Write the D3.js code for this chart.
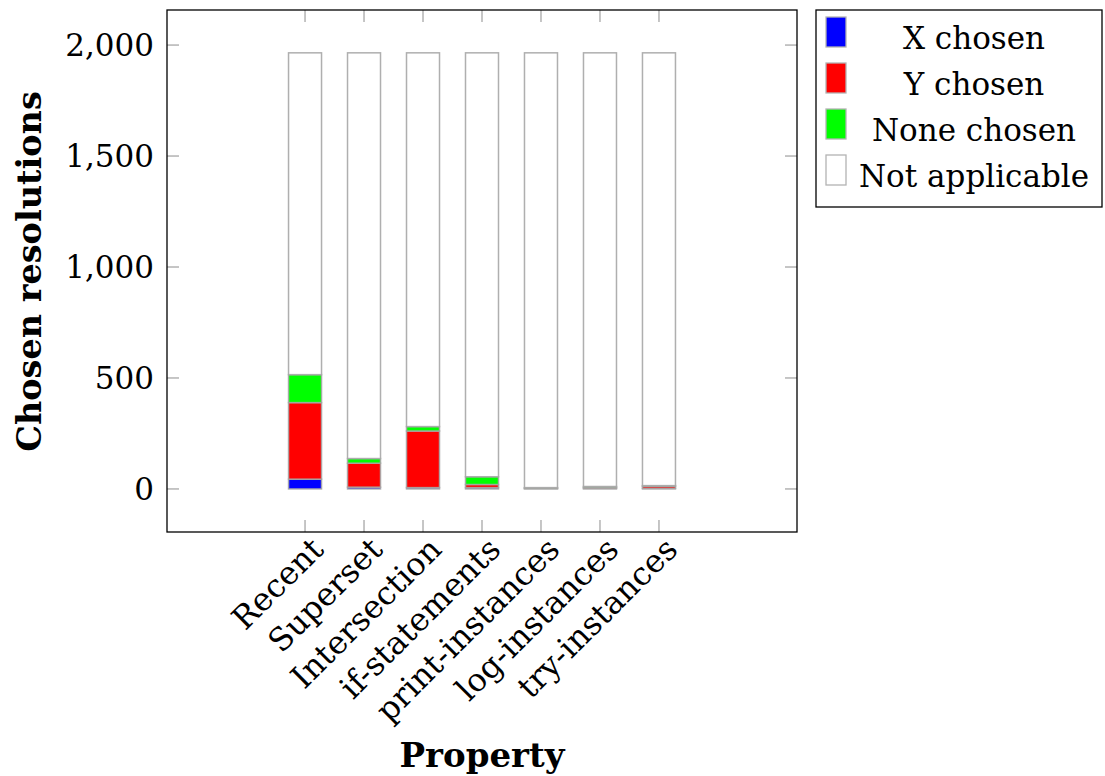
<!DOCTYPE html>
<html>
<head>
<meta charset="utf-8">
<script src="https://cdn.jsdelivr.net/npm/d3@7"></script>
<style>
  html, body { margin: 0; padding: 0; background: #fff; }
  svg { display: block; font-family: "DejaVu Serif", "Liberation Serif", serif; }
</style>
</head>
<body>
<svg id="chart" width="1105" height="776"></svg>
<script>
// Categories along the x axis
const properties = ["Recent", "Superset", "Intersection", "if-statements", "print-instances", "log-instances", "try-instances"];

// Stacked series (counts per property)
const xChosen       = [44, 8, 6, 6, 2, 3, 3];
const yChosen       = [345, 108, 255, 14, 2, 4, 9];
const noneChosen    = [126, 21, 20, 35, 2, 4, 3];
const notApplicable = [1450, 1828, 1684, 1910, 1959, 1954, 1950];

const seriesNames  = ["X chosen", "Y chosen", "None chosen", "Not applicable"];
const seriesColors = ["#0000ff", "#ff0000", "#00ff00", "#ffffff"];

const yTicks = [0, 500, 1000, 1500, 2000];

// Build rows for d3.stack
const rows = properties.map((p, i) => ({
  property: p,
  "X chosen": xChosen[i],
  "Y chosen": yChosen[i],
  "None chosen": noneChosen[i],
  "Not applicable": notApplicable[i]
}));

const svg = d3.select("#chart");
const plot = { left: 167, right: 797, top: 10, bottom: 532 };

// Category index scale with padding on both ends
const x = d3.scaleLinear()
  .domain([-2.34, properties.length - 1 + 2.34])
  .range([plot.left, plot.right]);

const y = d3.scaleLinear()
  .domain([-194, 2158])
  .range([plot.bottom, plot.top]);

const barWidth = 33;
const tickLen = 12;
const fmt = d3.format(",");
const fontSize = 31;

// Stacked bars
const stacked = d3.stack().keys(seriesNames)(rows);
const g = svg.append("g");
stacked.forEach((layer, k) => {
  g.selectAll(null)
    .data(layer)
    .join("rect")
    .attr("x", (d, i) => x(i) - barWidth / 2)
    .attr("y", d => y(d[1]))
    .attr("width", barWidth)
    .attr("height", d => y(d[0]) - y(d[1]))
    .attr("fill", seriesColors[k])
    .attr("stroke", "#a6a6a6")
    .attr("stroke-opacity", 0.9)
    .attr("stroke-width", 1.5);
});

// Inward ticks on all four sides
const ticks = svg.append("g").attr("stroke", "#b3b3b3").attr("stroke-width", 1.5);
yTicks.forEach(v => {
  ticks.append("line").attr("x1", plot.left).attr("x2", plot.left + tickLen).attr("y1", y(v)).attr("y2", y(v));
  ticks.append("line").attr("x1", plot.right).attr("x2", plot.right - tickLen).attr("y1", y(v)).attr("y2", y(v));
});
properties.forEach((p, i) => {
  ticks.append("line").attr("x1", x(i)).attr("x2", x(i)).attr("y1", plot.bottom).attr("y2", plot.bottom - tickLen);
  ticks.append("line").attr("x1", x(i)).attr("x2", x(i)).attr("y1", plot.top).attr("y2", plot.top + tickLen);
});

// Plot frame
svg.append("rect")
  .attr("x", plot.left).attr("y", plot.top)
  .attr("width", plot.right - plot.left).attr("height", plot.bottom - plot.top)
  .attr("fill", "none").attr("stroke", "#000").attr("stroke-width", 1.3);

// Y tick labels
svg.append("g").selectAll("text")
  .data(yTicks)
  .join("text")
  .attr("x", plot.left - 13)
  .attr("y", d => y(d))
  .attr("dy", "0.36em")
  .attr("text-anchor", "end")
  .attr("font-size", fontSize)
  .text(d => fmt(d));

// X tick labels, rotated 45 degrees
svg.append("g").selectAll("text")
  .data(properties)
  .join("text")
  .attr("transform", (d, i) => `translate(${x(i) + 4},${plot.bottom + 3}) rotate(-45)`)
  .attr("text-anchor", "end")
  .attr("dy", "0.72em")
  .attr("font-size", fontSize + 1)
  .text(d => d);

// Axis titles
svg.append("text")
  .attr("transform", `translate(41,${(90 + 453) / 2}) rotate(-90)`)
  .attr("text-anchor", "middle")
  .attr("font-size", 33.5)
  .attr("font-weight", "bold")
  .text("Chosen resolutions");

svg.append("text")
  .attr("x", x(3))
  .attr("y", 767)
  .attr("text-anchor", "middle")
  .attr("font-size", 34)
  .attr("font-weight", "bold")
  .text("Property");

// Legend
const legend = svg.append("g");
legend.append("rect")
  .attr("x", 816).attr("y", 10).attr("width", 286).attr("height", 197)
  .attr("fill", "#fff").attr("stroke", "#000").attr("stroke-width", 1.3);
seriesNames.forEach((name, k) => {
  const cy = 32 + k * 46;
  legend.append("rect")
    .attr("x", 826).attr("y", cy - 15).attr("width", 20).attr("height", 30)
    .attr("fill", seriesColors[k]).attr("stroke", "#b3b3b3").attr("stroke-width", 1.3);
  legend.append("text")
    .attr("x", 974).attr("y", cy + 6)
    .attr("dy", "0.35em")
    .attr("text-anchor", "middle")
    .attr("font-size", fontSize)
    .text(name);
});
</script>
</body>
</html>
